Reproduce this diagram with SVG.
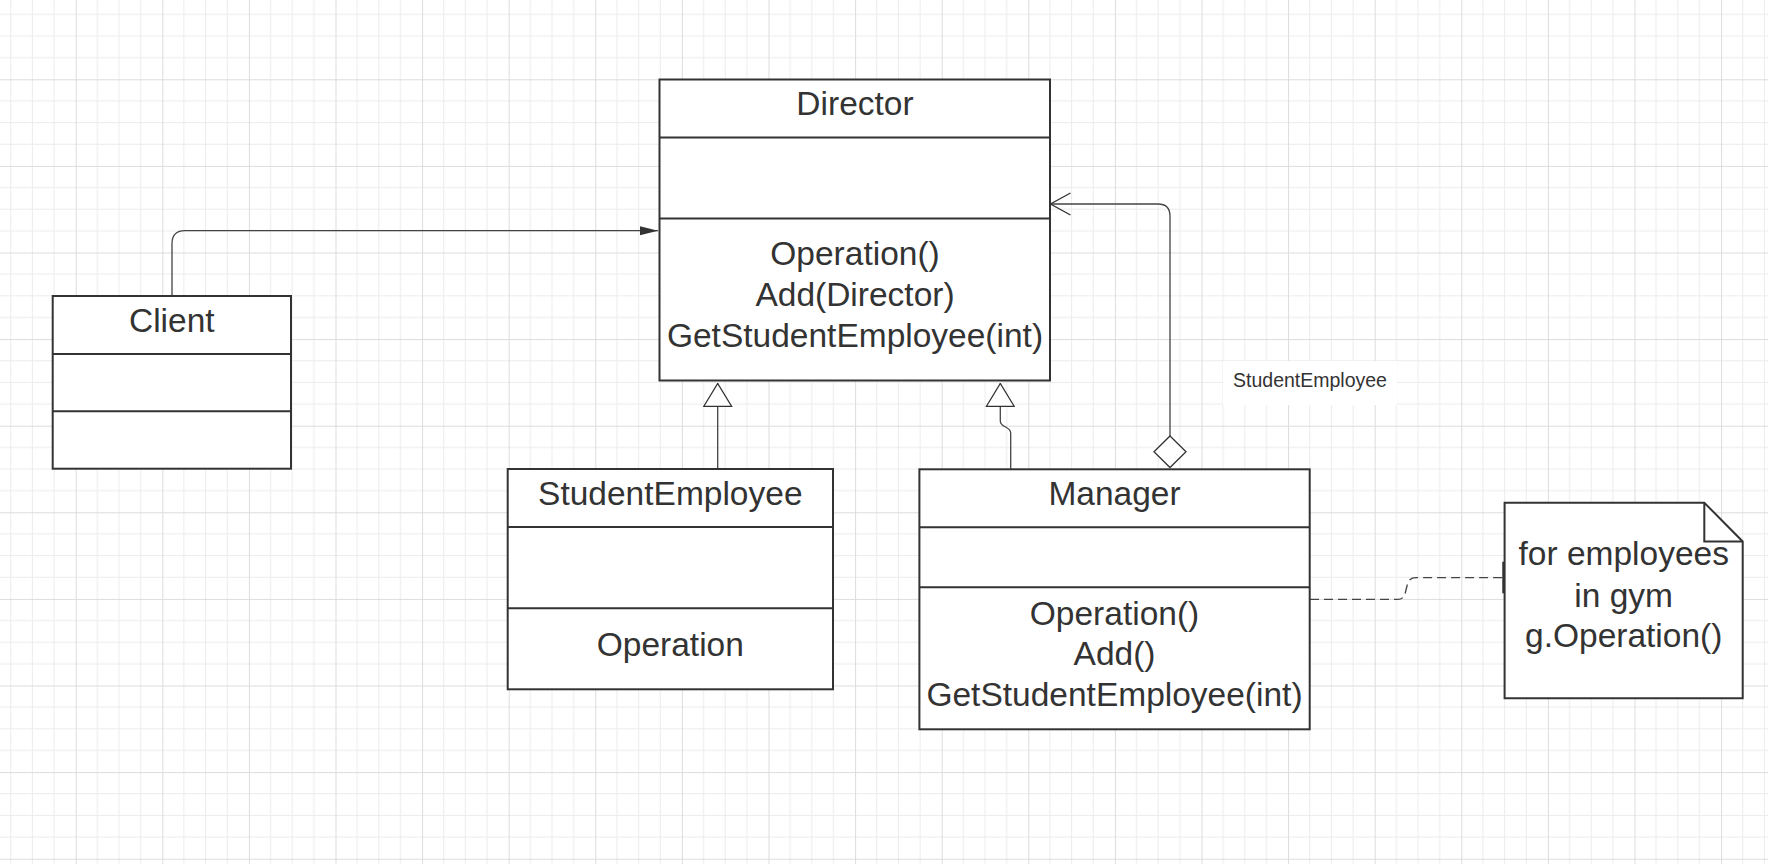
<svg xmlns="http://www.w3.org/2000/svg" width="1768" height="864" viewBox="0 0 1768 864">
<defs>
<pattern id="grid" x="-10.9" y="-7.3" width="86.6" height="86.6" patternUnits="userSpaceOnUse">
<path d="M21.65 0V86.6M43.3 0V86.6M64.95 0V86.6M0 21.65H86.6M0 43.3H86.6M0 64.95H86.6" stroke="#ececec" stroke-width="1" fill="none"/>
<path d="M0.5 0V86.6M0 0.5H86.6" stroke="#dcdcdc" stroke-width="1" fill="none"/>
</pattern>
<marker id="filled" viewBox="0 0 18 10" refX="18" refY="5" markerWidth="18" markerHeight="10" markerUnits="userSpaceOnUse" orient="auto">
<path d="M0 0.5L18 5L0 9.5Z" fill="#333"/>
</marker>
<marker id="open" viewBox="0 0 22 24" refX="21" refY="12" markerWidth="22" markerHeight="24" markerUnits="userSpaceOnUse" orient="auto">
<path d="M1 1L21 12L1 23" fill="none" stroke="#333" stroke-width="1.3"/>
</marker>
<marker id="tri" viewBox="0 0 24 30" refX="23.5" refY="15" markerWidth="24" markerHeight="30" markerUnits="userSpaceOnUse" orient="auto">
<path d="M0.5 1L23.5 15L0.5 29Z" fill="#fff" stroke="#333" stroke-width="1.3"/>
</marker>
</defs>
<style>
.box{fill:#fff;stroke:#333;stroke-width:2}
.div{stroke:#333;stroke-width:2;fill:none}
.t{font-family:"Liberation Sans",Arial,sans-serif;font-size:33.5px;fill:#333;text-anchor:middle}
.lbl{font-family:"Liberation Sans",Arial,sans-serif;font-size:19.5px;fill:#333;text-anchor:middle}
.c{fill:none;stroke:#444;stroke-width:1.3}
</style>
<rect width="1768" height="864" fill="#fff"/>
<rect width="1768" height="864" fill="url(#grid)"/>

<g id="connectors">
<path class="c" d="M172 296V243.7Q172 230.7 185 230.7H658" marker-end="url(#filled)"/>
<path class="c" d="M1170 436V216Q1170 204 1158 204H1050.5" marker-end="url(#open)"/>
<path d="M1170 436L1186 451.7L1170 467.5L1154 451.7Z" fill="#fff" stroke="#333" stroke-width="1.3"/>
<path class="c" d="M717.7 469V383.5" marker-end="url(#tri)"/>
<path class="c" d="M1010.7 469V433C1010.7 426 1000.3 428 1000.3 421V383.5" marker-end="url(#tri)"/>
<path class="c" d="M1310 599.3H1398Q1404 599.3 1405.5 592L1407.5 584Q1409 577.7 1416 577.7H1503" stroke-dasharray="9 5"/>
<path d="M1503.5 561.7V593.3" stroke="#333" stroke-width="2.5"/>
<g id="label-studentemployee">
<rect x="1223" y="361" width="174" height="44" fill="#fff"/>
<text class="lbl" x="1310" y="387.3">StudentEmployee</text>
</g>
</g>

<g id="director">
<rect class="box" x="659.5" y="79.5" width="390.5" height="301"/>
<path class="div" d="M659.5 137.5H1050M659.5 218.5H1050"/>
<text class="t" x="855" y="115">Director</text>
<text class="t" x="855" y="265">Operation()</text>
<text class="t" x="855" y="306">Add(Director)</text>
<text class="t" x="855" y="346.7">GetStudentEmployee(int)</text>
</g>

<g id="client">
<rect class="box" x="52.7" y="296" width="238.3" height="172.7"/>
<path class="div" d="M52.7 354H291M52.7 411.3H291"/>
<text class="t" x="171.8" y="331.7">Client</text>
</g>

<g id="studentemployee">
<rect class="box" x="507.7" y="469" width="325.3" height="220.3"/>
<path class="div" d="M507.7 527H833M507.7 608.3H833"/>
<text class="t" x="670.3" y="505">StudentEmployee</text>
<text class="t" x="670.3" y="655.7">Operation</text>
</g>

<g id="manager">
<rect class="box" x="919.4" y="469.3" width="390.3" height="260"/>
<path class="div" d="M919.4 527.3H1309.7M919.4 587.3H1309.7"/>
<text class="t" x="1114.5" y="505">Manager</text>
<text class="t" x="1114.5" y="625">Operation()</text>
<text class="t" x="1114.5" y="665">Add()</text>
<text class="t" x="1114.5" y="706">GetStudentEmployee(int)</text>
</g>

<g id="note">
<path class="box" d="M1504.6 502.7H1704.3L1742.7 541.5V698.3H1504.6Z"/>
<path class="div" d="M1704.3 502.7V541.5H1742.7"/>
<text class="t" x="1623.7" y="565">for employees</text>
<text class="t" x="1623.7" y="606.7">in gym</text>
<text class="t" x="1623.7" y="646.7">g.Operation()</text>
</g>
</svg>
